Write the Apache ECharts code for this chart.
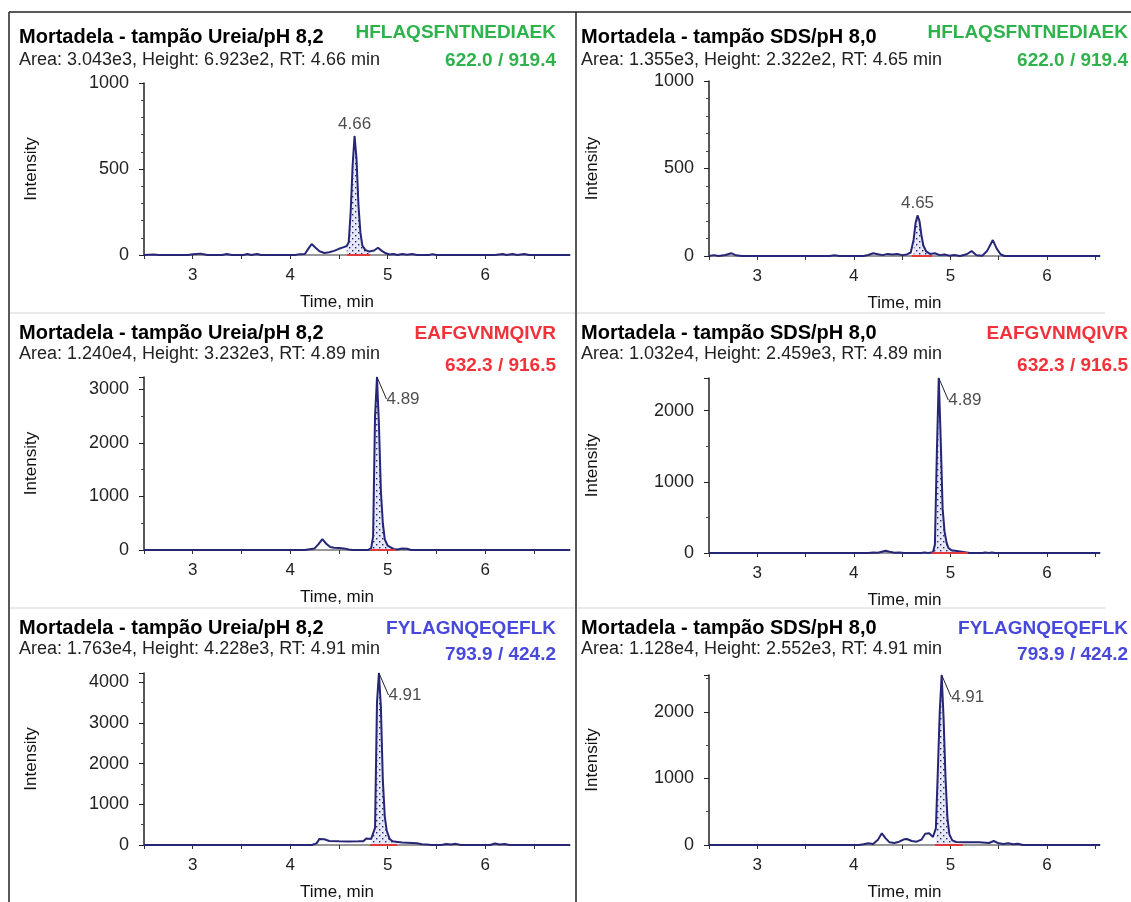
<!DOCTYPE html>
<html>
<head>
<meta charset="utf-8">
<script src="https://cdn.jsdelivr.net/npm/echarts@6/dist/echarts.min.js"></script>
<style>
html,body{margin:0;padding:0;background:#fff}
#chart{width:1131px;height:902px}
</style>
</head>
<body>
<div id="chart"></div>
<script>
// panel order: top-left, top-right, middle-left, middle-right, bottom-left, bottom-right
const sampleTitles = ['Mortadela - tampão Ureia/pH 8,2', 'Mortadela - tampão SDS/pH 8,0'];
const areaText = ['3.043e3', '1.355e3', '1.240e4', '1.032e4', '1.763e4', '1.128e4'];
const heightText = ['6.923e2', '2.322e2', '3.232e3', '2.459e3', '4.228e3', '2.552e3'];
const rtText = ['4.66', '4.65', '4.89', '4.89', '4.91', '4.91'];
const peptides = ['HFLAQSFNTNEDIAEK', 'EAFGVNMQIVR', 'FYLAGNQEQEFLK'];
const transitions = ['622.0 / 919.4', '632.3 / 916.5', '793.9 / 424.2'];
const peptideColors = ['#2eb34c', '#f2323a', '#4848dc'];

const yMax = [1000, 1000, 3232, 2459, 4228, 2552];
const yStep = [500, 500, 1000, 1000, 1000, 1000];
const yMinorSplit = [5, 5, 2, 2, 2, 2];
const xMin = 2.5;
const xMax = [6.87, 6.55, 6.87, 6.55, 6.87, 6.55];
const integStart = [4.58, 4.60, 4.82, 4.81, 4.82, 4.84];
const integEnd = [4.82, 4.81, 5.08, 5.18, 5.10, 5.13];

// traces: [time (min), intensity]
const ureiaHF = [[2.5,0],[2.6,3],[2.65,0],[2.95,0],[3.0,4],[3.08,8],[3.15,0],[3.3,0],[3.35,6],[3.4,0],[3.52,0],[3.56,6],[3.6,0],[3.66,6],[3.7,0],[4.05,0],[4.1,5],[4.15,6],[4.19,40],[4.22,64],[4.26,42],[4.3,22],[4.35,12],[4.4,16],[4.45,24],[4.5,36],[4.55,46],[4.58,52],[4.6,75],[4.62,250],[4.64,520],[4.66,692],[4.68,560],[4.7,290],[4.72,130],[4.74,55],[4.77,30],[4.81,20],[4.86,26],[4.9,42],[4.94,24],[4.98,10],[5.02,3],[5.06,6],[5.1,0],[5.15,6],[5.2,2],[5.25,6],[5.3,0],[5.42,0],[5.46,5],[5.5,0],[6.1,0],[6.18,6],[6.22,0],[6.28,6],[6.33,0],[6.4,6],[6.45,0],[6.87,0]];
const sdsHF = [[2.5,0],[2.55,5],[2.6,0],[2.67,6],[2.73,16],[2.78,4],[2.84,0],[3.75,0],[3.8,4],[3.85,0],[4.1,0],[4.15,6],[4.2,16],[4.25,10],[4.3,5],[4.35,12],[4.4,8],[4.45,11],[4.5,5],[4.55,9],[4.59,20],[4.62,95],[4.64,190],[4.66,232],[4.68,200],[4.7,120],[4.72,60],[4.75,26],[4.79,12],[4.84,16],[4.89,5],[4.94,9],[4.99,2],[5.04,6],[5.1,0],[5.17,10],[5.22,28],[5.27,4],[5.33,2],[5.38,28],[5.44,91],[5.48,42],[5.52,10],[5.56,0],[6.55,0]];
const ureiaEA = [[2.5,0],[4.15,0],[4.2,15],[4.25,30],[4.29,110],[4.33,205],[4.37,115],[4.41,55],[4.45,42],[4.5,36],[4.55,30],[4.6,8],[4.64,0],[4.8,0],[4.83,30],[4.85,250],[4.87,2500],[4.89,3232],[4.91,2350],[4.93,1100],[4.95,500],[4.97,200],[5.0,80],[5.03,50],[5.06,20],[5.1,10],[5.15,28],[5.2,22],[5.24,0],[6.87,0]];
const sdsEA = [[2.5,0],[4.15,0],[4.2,8],[4.25,4],[4.3,22],[4.33,32],[4.37,18],[4.42,4],[4.47,8],[4.52,0],[4.7,0],[4.73,8],[4.77,0],[4.82,10],[4.84,120],[4.86,1400],[4.88,2459],[4.9,1600],[4.92,620],[4.94,300],[4.96,150],[4.98,70],[5.01,40],[5.05,32],[5.1,22],[5.15,12],[5.2,0],[5.33,0],[5.36,8],[5.4,0],[5.43,8],[5.46,0],[6.55,0]];
const ureiaFY = [[2.5,0],[4.22,0],[4.27,40],[4.3,150],[4.35,140],[4.4,100],[4.5,90],[4.6,85],[4.7,90],[4.75,95],[4.78,160],[4.8,200],[4.83,150],[4.85,180],[4.87,420],[4.89,3500],[4.91,4228],[4.93,3400],[4.95,1600],[4.97,700],[4.99,350],[5.02,150],[5.05,90],[5.1,75],[5.15,60],[5.2,55],[5.3,45],[5.35,20],[5.4,10],[5.45,0],[5.55,0],[5.6,25],[5.65,10],[5.7,28],[5.75,0],[6.05,0],[6.1,35],[6.15,15],[6.2,25],[6.25,0],[6.87,0]];
const sdsFY = [[2.5,0],[3.38,0],[3.4,10],[3.43,0],[4.05,0],[4.1,10],[4.15,25],[4.2,15],[4.25,80],[4.29,175],[4.33,100],[4.37,40],[4.42,30],[4.47,50],[4.52,85],[4.55,90],[4.6,60],[4.65,50],[4.7,80],[4.74,170],[4.78,175],[4.82,120],[4.85,250],[4.87,1100],[4.89,2000],[4.91,2552],[4.93,1900],[4.95,1000],[4.97,400],[4.99,160],[5.02,70],[5.06,45],[5.15,40],[5.3,40],[5.4,30],[5.45,60],[5.5,25],[5.55,15],[5.6,25],[5.65,10],[5.7,20],[5.75,0],[5.98,0],[6.0,15],[6.03,0],[6.55,0]];
const traces = [ureiaHF, sdsHF, ureiaEA, sdsEA, ureiaFY, sdsFY];

const FONT = '"Liberation Sans", Arial, sans-serif';
const NAVY = '#262677';
const grids = [
    {left: 144, top: 83, width: 426, height: 172},
    {left: 709, top: 81, width: 391, height: 175},
    {left: 144, top: 377, width: 426, height: 173},
    {left: 709, top: 378, width: 391, height: 175},
    {left: 144, top: 673, width: 426, height: 172},
    {left: 709, top: 675, width: 391, height: 172}
];
const rowTop = [27, 323, 618];
const rowGap = [4, 2, 2];
const pepY = [33, 334, 629];
const transY = [61, 366, 655];

// dotted fill used for the integrated peak
function dotPattern() {
    let c = document.createElement('canvas');
    c.width = 6; c.height = 6;
    let g = c.getContext('2d');
    g.fillStyle = '#e6e8f8';
    g.fillRect(0, 0, 6, 6);
    g.fillStyle = '#26266f';
    g.fillRect(1, 1, 1.4, 1.4);
    g.fillRect(4, 4, 1.4, 1.4);
    return c;
}
const pattern = {image: dotPattern(), repeat: 'repeat'};

let titles = [], xAxes = [], yAxes = [], series = [], texts = [];
traces.forEach((tr, i) => {
    let row = Math.floor(i / 2), col = i % 2;
    titles.push({
        text: sampleTitles[col],
        subtext: 'Area: ' + areaText[i] + ', Height: ' + heightText[i] + ', RT: ' + rtText[i] + ' min',
        left: col ? 581 : 19, top: rowTop[row], padding: 0, itemGap: rowGap[row],
        textStyle: {fontFamily: FONT, fontSize: 20, fontWeight: 'bold', color: '#000'},
        subtextStyle: {fontFamily: FONT, fontSize: 18, color: '#222'}
    });
    let rx = col ? 1128 : 556;
    texts.push({type: 'text', x: rx, y: pepY[row], style: {text: peptides[row], textAlign: 'right', textVerticalAlign: 'middle',
        font: 'bold 19px ' + FONT, fill: peptideColors[row]}});
    texts.push({type: 'text', x: rx, y: transY[row], style: {text: transitions[row], textAlign: 'right', textVerticalAlign: 'middle',
        font: 'bold 19px ' + FONT, fill: peptideColors[row]}});
    xAxes.push({
        type: 'value', gridIndex: i, min: xMin, max: xMax[i], interval: 0.5,
        name: 'Time, min', nameLocation: 'middle', nameGap: 39,
        nameTextStyle: {fontFamily: FONT, fontSize: 17, color: '#111', padding: col ? 0 : [0, 40, 0, 0]},
        axisLine: {onZero: false, lineStyle: {color: '#777', width: 1.5}},
        axisTick: {length: 4, lineStyle: {color: '#333'}},
        axisLabel: {fontFamily: FONT, fontSize: 17, color: '#222', margin: 12, showMaxLabel: false,
            formatter: v => (Math.abs(v - Math.round(v)) < 1e-6 ? String(Math.round(v)) : '')},
        splitLine: {show: false}
    });
    yAxes.push({
        type: 'value', gridIndex: i, min: 0, max: yMax[i], interval: yStep[i],
        name: 'Intensity', nameLocation: 'middle', nameGap: col ? 108 : 104,
        nameTextStyle: {fontFamily: FONT, fontSize: 17, color: '#111'},
        axisLine: {show: true, lineStyle: {color: '#222', width: 1.5}},
        axisTick: {show: true, length: 5, lineStyle: {color: '#222'}},
        minorTick: {show: true, splitNumber: yMinorSplit[i], length: 3, lineStyle: {color: '#444'}},
        axisLabel: {fontFamily: FONT, fontSize: 18, color: '#222', margin: 15, showMaxLabel: row === 0,
            formatter: v => String(v)},
        splitLine: {show: false}
    });
    let peak = tr.filter(p => p[0] >= integStart[i] - 1e-9 && p[0] <= integEnd[i] + 1e-9);
    let apex = tr.reduce((a, b) => (b[1] > a[1] ? b : a));
    series.push({
        type: 'line', xAxisIndex: i, yAxisIndex: i, data: peak, showSymbol: false, silent: true,
        lineStyle: {width: 0, opacity: 0}, areaStyle: {color: pattern, opacity: 1}, z: 2
    });
    series.push({
        type: 'line', xAxisIndex: i, yAxisIndex: i, data: tr, showSymbol: false, silent: true,
        lineStyle: {color: NAVY, width: 2}, z: 3
    });
    series.push({
        type: 'line', xAxisIndex: i, yAxisIndex: i, showSymbol: false, silent: true,
        data: [[integStart[i], 0], [integEnd[i], 0]],
        lineStyle: {color: '#e23a3a', width: 2}, z: 4
    });
    let lbl = row === 0
        ? {show: true, position: 'top', distance: 3, formatter: rtText[i], fontFamily: FONT, fontSize: 17, color: '#222'}
        : {show: true, position: 'right', distance: 9, formatter: rtText[i], fontFamily: FONT, fontSize: 17, color: '#222'};
    series.push({
        type: 'scatter', xAxisIndex: i, yAxisIndex: i, data: [apex], symbolSize: 1, silent: true,
        itemStyle: {color: NAVY}, label: lbl,
        labelLayout: row === 0 ? null : {dy: 22},
        labelLine: row === 0 ? {show: false} : {show: true, length2: 0, lineStyle: {color: '#222', width: 1}},
        z: 5
    });
});

const chart = echarts.init(document.getElementById('chart'), null, {renderer: 'canvas'});
chart.setOption({
    animation: false,
    backgroundColor: '#fff',
    title: titles,
    grid: grids,
    xAxis: xAxes,
    yAxis: yAxes,
    series: series,
    graphic: texts.concat([
        {type: 'line', shape: {x1: 9, y1: 12, x2: 1131, y2: 12}, style: {stroke: '#222', lineWidth: 1.5}},
        {type: 'line', shape: {x1: 9, y1: 12, x2: 9, y2: 902}, style: {stroke: '#222', lineWidth: 1.5}},
        {type: 'line', shape: {x1: 576, y1: 12, x2: 576, y2: 902}, style: {stroke: '#222', lineWidth: 1.5}},
        {type: 'line', shape: {x1: 10, y1: 313, x2: 575, y2: 313}, style: {stroke: '#d4d4d4', lineWidth: 1}},
        {type: 'line', shape: {x1: 577, y1: 313, x2: 1105, y2: 313}, style: {stroke: '#d4d4d4', lineWidth: 1}},
        {type: 'line', shape: {x1: 10, y1: 608, x2: 575, y2: 608}, style: {stroke: '#d4d4d4', lineWidth: 1}},
        {type: 'line', shape: {x1: 577, y1: 608, x2: 1105, y2: 608}, style: {stroke: '#d4d4d4', lineWidth: 1}}
    ])
});
</script>
</body>
</html>
